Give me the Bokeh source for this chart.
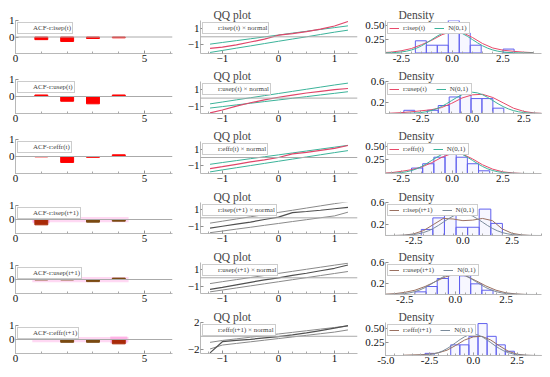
from bokeh.plotting import figure
from bokeh.layouts import row, column
from bokeh.models import (FixedTicker, Legend, LegendItem, Span, ColumnDataSource,
                          PrintfTickFormatter)
from bokeh.embed import file_html
from bokeh.resources import INLINE

FONT = "Liberation Serif"

# ---------------- data ----------------
lags = [1, 2, 3, 4]
acf_labels = ["ACF-r:isep(t)", "ACF-r:usep(t)", "ACF-r:effr(t)",
              "ACF-r:isep(t+1)", "ACF-r:usep(t+1)", "ACF-r:effr(t+1)"]
acf_vals = [
    [-0.16, -0.27, -0.09, -0.05],
    [0.09, -0.28, -0.43, 0.09],
    [-0.02, -0.35, -0.05, 0.10],
    [-0.38, 0.12, -0.19, -0.12],
    [-0.03, -0.03, -0.15, 0.10],
    [0.12, -0.20, -0.20, -0.31],
]
acf_band = [None, None, None, 0.19, 0.19, 0.19]
acf_signif = [[], [], [], [1], [], [4]]

qq_labels = ["r:isep(t) × normal", "r:usep(t) × normal", "r:effr(t) × normal",
             "r:isep(t+1) × normal", "r:usep(t+1) × normal", "r:effr(t+1) × normal"]
qq_x = [-1.22, -1.0, -0.75, -0.5, -0.25, 0.0, 0.25, 0.5, 0.75, 1.0, 1.24]
qq_main = [
    [-1.46, -1.3, -1.0, -0.65, -0.3, 0.2, 0.4, 0.65, 0.95, 1.35, 1.92],
    [-1.74, -1.4, -0.95, -0.55, -0.2, 0.1, 0.35, 0.6, 0.8, 1.0, 1.13],
    [-1.4, -1.15, -0.85, -0.55, -0.3, 0.0, 0.45, 0.65, 0.9, 1.15, 1.5],
    [-1.22, -1.0, -0.75, -0.5, -0.2, 0.08, 0.62, 0.75, 0.9, 1.08, 1.25],
    [-1.4, -1.15, -0.85, -0.55, -0.25, 0.0, 0.3, 0.55, 0.85, 1.15, 1.55],
    [-2.45, -0.8, -0.62, -0.45, -0.25, -0.05, 0.2, 0.5, 0.85, 1.2, 1.58],
]
qq_hi = [
    [-0.92, -0.71, -0.48, -0.25, -0.01, 0.22, 0.46, 0.69, 0.92, 1.15, 1.37],
    [-0.68, -0.46, -0.21, 0.04, 0.29, 0.54, 0.79, 1.04, 1.29, 1.54, 1.76],
    [-0.85, -0.63, -0.39, -0.15, 0.09, 0.33, 0.57, 0.81, 1.05, 1.29, 1.52],
    [-0.63, -0.4, -0.14, 0.12, 0.38, 0.64, 0.9, 1.16, 1.42, 1.68, 1.92],
    [-0.7, -0.47, -0.22, 0.03, 0.28, 0.53, 0.78, 1.03, 1.28, 1.53, 1.76],
    [-0.9, -0.62, -0.38, -0.14, 0.1, 0.34, 0.58, 0.82, 1.06, 1.3, 1.52],
]
qq_lo = [
    [-1.96, -1.71, -1.42, -1.14, -0.85, -0.56, -0.28, 0.0, 0.29, 0.58, 0.83],
    [-1.17, -1.0, -0.8, -0.61, -0.41, -0.22, -0.02, 0.17, 0.37, 0.56, 0.75],
    [-1.8, -1.55, -1.28, -1.01, -0.74, -0.47, -0.2, 0.07, 0.34, 0.61, 0.86],
    [-1.76, -1.57, -1.34, -1.12, -0.89, -0.67, -0.44, -0.22, 0.01, 0.23, 0.67],
    [-1.7, -1.48, -1.23, -0.98, -0.73, -0.48, -0.23, 0.02, 0.27, 0.52, 0.76],
    [-1.88, -1.3, -1.06, -0.82, -0.58, -0.34, -0.1, 0.14, 0.38, 0.62, 0.94],
]
qq_yticks = [[-1, 1], [-1, 1], [-1, 1], [-1, 1], [-1, 1], [-2, 2]]
qq_yrange = [(-2.09, 2.04), (-1.81, 1.95), (-2.0, 2.0), (-1.86, 1.82), (-1.9, 1.85), (-2.55, 2.04)]

dens_labels = ["r:isep(t)", "r:usep(t)", "r:effr(t)", "r:isep(t+1)", "r:usep(t+1)", "r:effr(t+1)"]
norm_x = [-4.0, -3.75, -3.5, -3.25, -3.0, -2.75, -2.5, -2.25, -2.0, -1.75, -1.5, -1.25, -1.0,
          -0.75, -0.5, -0.25, 0.0, 0.25, 0.5, 0.75, 1.0, 1.25, 1.5, 1.75, 2.0, 2.25, 2.5,
          2.75, 3.0, 3.25, 3.5, 3.75, 4.0]
norm_y = [0.0001, 0.0004, 0.0009, 0.0020, 0.0044, 0.0091, 0.0175, 0.0317, 0.0540, 0.0863,
          0.1295, 0.1826, 0.2420, 0.3011, 0.3521, 0.3867, 0.3989, 0.3867, 0.3521, 0.3011,
          0.2420, 0.1826, 0.1295, 0.0863, 0.0540, 0.0317, 0.0175, 0.0091, 0.0044, 0.0020,
          0.0009, 0.0004, 0.0001]
kde_x = [-4.0, -3.5, -3.0, -2.5, -2.0, -1.5, -1.0, -0.5, 0.0, 0.5, 1.0, 1.5, 2.0, 2.5, 3.0, 3.5, 4.0]
kde_y = [
    [0.0, 0.005, 0.015, 0.04, 0.08, 0.15, 0.23, 0.33, 0.39, 0.37, 0.28, 0.17, 0.09, 0.05, 0.03, 0.015, 0.005],
    [0.005, 0.015, 0.03, 0.05, 0.07, 0.11, 0.19, 0.29, 0.35, 0.36, 0.30, 0.20, 0.10, 0.04, 0.01, 0.0, 0.0],
    [0.0, 0.005, 0.015, 0.04, 0.07, 0.12, 0.20, 0.30, 0.37, 0.36, 0.27, 0.16, 0.08, 0.03, 0.01, 0.0, 0.0],
    [0.0, 0.0, 0.005, 0.03, 0.09, 0.20, 0.31, 0.30, 0.27, 0.28, 0.31, 0.27, 0.12, 0.04, 0.01, 0.0, 0.0],
    [0.0, 0.005, 0.015, 0.04, 0.08, 0.15, 0.24, 0.33, 0.38, 0.35, 0.26, 0.16, 0.08, 0.03, 0.01, 0.0, 0.0],
    [0.005, 0.01, 0.015, 0.025, 0.05, 0.10, 0.19, 0.29, 0.35, 0.36, 0.29, 0.18, 0.08, 0.025, 0.005, 0.0, 0.0],
]
hist_left = [
    [-1.81, -1.27, -0.73, -0.19, 0.35, 0.89, 2.51],
    [-3.32, -2.18, -1.65, -1.12, -0.59, -0.06, 0.47, 1.0],
    [-2.0, -1.45, -0.9, -0.35, 0.2, 0.75, 1.3],
    [-2.12, -1.53, -0.94, -0.35, 0.24, 0.83, 1.42],
    [-2.0, -1.45, -0.9, -0.35, 0.2, 0.75, 1.3],
    [-2.76, -1.29, -0.77, -0.25, 0.27, 0.79, 1.31, 1.83],
]
hist_width = [0.54, 0.53, 0.55, 0.59, 0.55, 0.52]
hist_top = [
    [0.22, 0.14, 0.14, 0.59, 0.36, 0.14, 0.07],
    [0.06, 0.06, 0.15, 0.31, 0.52, 0.28, 0.28, 0.10],
    [0.10, 0.18, 0.30, 0.55, 0.30, 0.18, 0.05],
    [0.11, 0.32, 0.55, 0.15, 0.15, 0.48, 0.22],
    [0.05, 0.15, 0.30, 0.50, 0.35, 0.20, 0.08],
    [0.04, 0.20, 0.20, 0.36, 0.60, 0.36, 0.20, 0.08],
]
dens_yticks = [[0.25, 0.5], [0.2, 0.6], [0.25, 0.5], [0.2, 0.6], [0.2, 0.6], [0.25, 0.5]]
dens_yfmt = ["%.2f", "%.1f", "%.2f", "%.1f", "%.1f", "%.2f"]
dens_yrange = [(-0.01, 0.587), (0, 0.6), (0, 0.59), (0, 0.6), (0, 0.6), (0, 0.62)]
dens_xrange = [(-3.28, 4.4), (-4.21, 3.36), (-3.28, 4.4), (-3.94, 4.0), (-3.45, 4.24), (-5.02, 3.9)]
dens_xticks = [[-2.5, 0, 2.5], [-2.5, 0, 2.5], [-2.5, 0, 2.5], [-2.5, 0, 2.5], [-2.5, 0, 2.5],
               [-5.0, -2.5, 0, 2.5]]

RED_BAR = "#ff0000"
BROWN = "#7a4a12"
DARKRED = "#a82a08"
acf_colors = [[RED_BAR] * 4, [RED_BAR] * 4, [RED_BAR] * 4,
              [DARKRED, BROWN, BROWN, BROWN], [BROWN] * 4, [BROWN, BROWN, BROWN, DARKRED]]

# ---------------- layout (pixels) ----------------
BOUNDS = [0, 67, 127, 188, 248, 308, 376]
ACF_FRAME = [(20, 53), (79, 113), (139, 173), (205, 233), (265, 293), (325, 353)]
QQ_FRAME = [(20, 53), (80, 113), (140, 173), (202, 233), (262, 293), (322, 353)]
DEN_FRAME = [(20, 53), (80, 113), (140, 173), (202, 235), (262, 294), (322, 355)]
DEN_LEFT = [25, 25, 25, 25, 25, 21]


def style(p):
    p.xgrid.visible = False
    p.ygrid.visible = False
    p.outline_line_color = None
    p.background_fill_color = "white"
    p.border_fill_color = "white"
    for ax in (p.xaxis[0], p.yaxis[0]):
        ax.axis_line_color = "#b8b8b8"
        ax.major_tick_line_color = "#909090"
        ax.minor_tick_line_color = "#a8a8a8"
        ax.major_tick_in = 3
        ax.major_tick_out = 0
        ax.minor_tick_in = 2
        ax.minor_tick_out = 0
        ax.major_label_text_font = FONT
        ax.major_label_text_font_size = "11px"
        ax.major_label_text_color = "#111111"
        ax.major_label_standoff = 1


def small_legend(p, items, horizontal=False):
    lg = Legend(items=items, location="top_left", orientation="horizontal" if horizontal else "vertical")
    lg.label_text_font = FONT
    lg.label_text_font_size = "7px"
    lg.label_height = 6
    lg.glyph_height = 6
    lg.glyph_width = 10
    lg.label_standoff = 4
    lg.padding = 1
    lg.margin = 2
    lg.spacing = 9 if horizontal else 0
    lg.border_line_color = "#999999"
    lg.border_line_width = 0.6
    lg.background_fill_alpha = 1.0
    p.add_layout(lg)


def fig(width, L, R, r, frame, xr, yr, title=None):
    top, bottom = frame
    h = BOUNDS[r + 1] - BOUNDS[r]
    T = top - BOUNDS[r]
    B = BOUNDS[r + 1] - bottom
    p = figure(width=width, height=h, x_range=xr, y_range=yr, output_backend="svg",
               toolbar_location=None, min_border_left=L, min_border_right=R,
               min_border_top=T, min_border_bottom=B)
    style(p)
    if title:
        p.title.text = title
        p.title.text_font = FONT
        p.title.text_font_size = "11.5px"
        p.title.text_font_style = "normal"
        p.title.align = "left"
        p.title.offset = 13
        p.title.standoff = 0
    else:
        p.title = None
    return p


acf_col, qq_col, den_col = [], [], []
for i in range(6):
    # ACF
    a = fig(180, 15, 8, i, ACF_FRAME[i], (0, 6.08), (-1.0, 1.0))
    a.xaxis.ticker = FixedTicker(ticks=[0, 5], minor_ticks=[1, 2, 3, 4, 6])
    a.yaxis.ticker = FixedTicker(ticks=[0, 1])
    a.add_layout(Span(location=0, dimension="width", line_color="#aaaaaa", line_width=1))
    if acf_band[i] is not None:
        a.quad(left=[0.65], right=[4.38], bottom=[-acf_band[i]], top=[acf_band[i] * 0.9],
               fill_color="#ffc8ee", fill_alpha=0.7, line_color=None)
        for lg_ in acf_signif[i]:
            a.quad(left=[lg_ - 0.33], right=[lg_ + 0.33], bottom=[-0.26], top=[0.21],
                   fill_color="#ff99dd", fill_alpha=0.6, line_color=None)
    src = ColumnDataSource(dict(x=lags, top=acf_vals[i], c=acf_colors[i]))
    a.vbar(x="x", top="top", bottom=0, width=0.5, source=src, fill_color="c", line_color="c")
    lc = "#ff8888" if i < 3 else "#a0522d"
    lr = a.line(x=[], y=[], line_color=lc, line_width=1)
    small_legend(a, [LegendItem(label=acf_labels[i], renderers=[lr])])
    acf_col.append(a)

    # QQ
    q = fig(180, 20, 3, i, QQ_FRAME[i], (-1.39, 1.41), qq_yrange[i], title="QQ plot")
    q.xaxis.ticker = FixedTicker(ticks=[-1, 0, 1], minor_ticks=[-1.25, -0.75, -0.5, -0.25, 0.25, 0.5, 0.75, 1.25])
    q.yaxis.ticker = FixedTicker(ticks=qq_yticks[i])
    q.add_layout(Span(location=0, dimension="width", line_color="#aaaaaa", line_width=1))
    band_c = "#3cb39a" if i < 3 else "#8a8a8a"
    main_c = "#e0466a" if i < 3 else "#505050"
    q.line(qq_x, qq_hi[i], line_color=band_c, line_width=1)
    q.line(qq_x, qq_lo[i], line_color=band_c, line_width=1)
    q.line(qq_x, qq_main[i], line_color=main_c, line_width=1.2)
    lr2 = q.line(x=[], y=[], line_color="#ff6080" if i < 3 else "#a0522d", line_width=1)
    small_legend(q, [LegendItem(label=qq_labels[i], renderers=[lr2])])
    qq_col.append(q)

    # Density
    d = fig(190, DEN_LEFT[i], 9, i, DEN_FRAME[i], dens_xrange[i], dens_yrange[i], title="Density")
    d.xaxis.ticker = FixedTicker(ticks=dens_xticks[i],
                                 minor_ticks=[v / 2 for v in range(-12, 10)])
    d.xaxis.formatter = PrintfTickFormatter(format="%.1f")
    d.yaxis.ticker = FixedTicker(ticks=dens_yticks[i])
    d.yaxis.formatter = PrintfTickFormatter(format=dens_yfmt[i])
    lefts = hist_left[i]
    rights = [v + hist_width[i] for v in lefts]
    d.quad(left=lefts, right=rights, bottom=0, top=hist_top[i], fill_color="#c8c8ff",
           fill_alpha=0.15, line_color="#6060ee", line_width=1)
    kc = "#e84a6a" if i < 3 else "#9a7060"
    nc = "#3cb39a" if i < 3 else "#7a8a9a"
    r1 = d.line(kde_x, kde_y[i], line_color=kc, line_width=1)
    r2 = d.line(norm_x, norm_y, line_color=nc, line_width=1)
    small_legend(d, [LegendItem(label=dens_labels[i], renderers=[r1]),
                     LegendItem(label="N(0,1)", renderers=[r2])], horizontal=True)
    den_col.append(d)

layout = row(column(*acf_col), column(*qq_col), column(*den_col))
open("out.html", "w").write(file_html(layout, INLINE))
